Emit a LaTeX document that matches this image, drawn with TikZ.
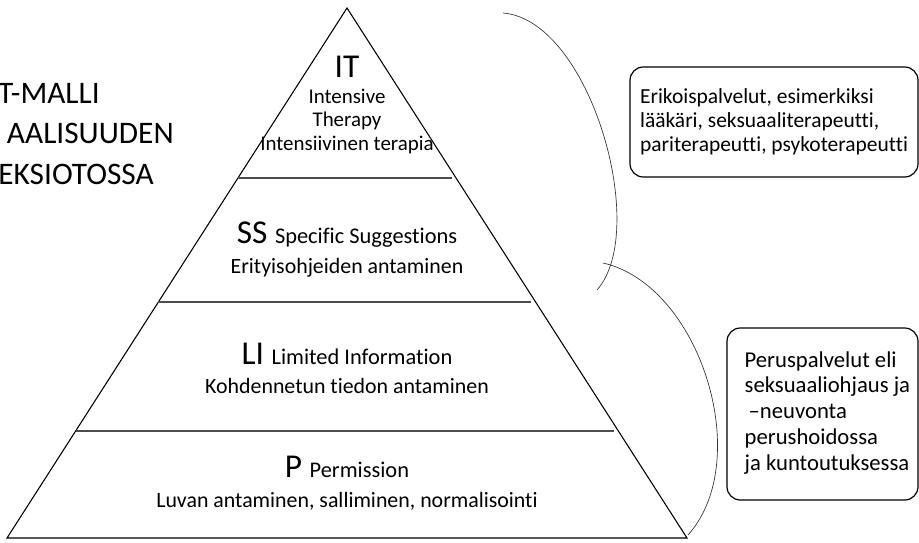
\documentclass[tikz,border=0pt]{standalone}
\usepackage{fontspec}
\setmainfont{Carlito}[Ligatures=NoCommon]
\usetikzlibrary{positioning}

\begin{document}
\frenchspacing
\begin{tikzpicture}[x=0.75pt,y=0.75pt,yscale=-1,
  titletext/.style={anchor=base east,inner sep=0pt,font=\fontsize{23.5}{30}\selectfont},
  levelbig/.style={anchor=base,inner sep=0pt,font=\fontsize{25}{28}\selectfont},
  leveltext/.style={anchor=base,inner sep=0pt,font=\fontsize{16.4}{18}\selectfont},
  infobox/.style={draw,line width=0.9pt,rounded corners=10pt},
  boxtext/.style={align=left,inner sep=0pt}]
\useasboundingbox (0,0) rectangle (919,542);
\clip (0,0) rectangle (919,542);

%Shape: Triangle [id:pyramid]
\draw [line width=0.8pt,line join=miter] (347,8) -- (687,538) -- (7,538) -- cycle ;
%Straight Lines [id:layers]
\draw [color=black!70,line width=0.8pt] (238,178) -- (452,178) (158,302) -- (531,302) (76,431) -- (614,431) ;

%Curve Lines [id:upperbrace]
\draw [color=black!80,line width=0.5pt] (503,13) .. controls (590,20) and (650,230) .. (597,290) ;
%Curve Lines [id:lowerbrace]
\draw [color=black!80,line width=0.5pt] (603,263) .. controls (700,285) and (755,460) .. (688,535) ;

% Text Node
\node [titletext] (titlea) at (100,103) {T-MALLI};
% Text Node
\node [titletext] (titleb) at (174,143) {AALISUUDEN};
% Text Node
\node [titletext] (titlec) at (154,184) {EKSIOTOSSA};

% Text Node
\node [levelbig] (itname) at (347,77) {IT};
% Text Node
\node [anchor=base,inner sep=0pt,align=center,font=\fontsize{15.7}{17.3}\selectfont] (itsub) at (347,150) {Intensive\\Therapy\\Intensiivinen terapia};

% Text Node
\node [levelbig] (ssname) at (347,243) {SS {\fontsize{16.8}{18}\selectfont Specific Suggestions}};
% Text Node
\node [leveltext] (sssub) at (347,273) {Erityisohjeiden antaminen};

% Text Node
\node [levelbig] (liname) at (347,364) {LI {\fontsize{16.8}{18}\selectfont Limited Information}};
% Text Node
\node [leveltext] (lisub) at (347,393) {Kohdennetun tiedon antaminen};

% Text Node
\node [levelbig] (pname) at (347,477) {P {\fontsize{16.8}{18}\selectfont Permission}};
% Text Node
\node [leveltext] (psub) at (347,507) {Luvan antaminen, salliminen, normalisointi};

%Rounded Rect [id:specialbox]
\node [infobox,minimum width=216pt,minimum height=82.5pt,inner xsep=7pt,align=left,font=\fontsize{16.1}{18}\selectfont] (specialbox) at (774,122)
  {Erikoispalvelut, esimerkiksi\\l\"a\"ak\"ari, seksuaaliterapeutti,\\pariterapeutti, psykoterapeutti};

%Rounded Rect [id:basicbox]
\node [infobox,minimum width=143.25pt,minimum height=129pt] (basicbox) at (822.5,414) {};
% Text Node
\node [boxtext,anchor=west,font=\fontsize{17}{19.3}\selectfont] (basictext) at ([xshift=13.5pt,yshift=-1pt]basicbox.west)
  {Peruspalvelut eli\\seksuaaliohjaus ja\\\hspace*{3pt}–neuvonta\\perushoidossa\\ja kuntoutuksessa};

\end{tikzpicture}
\end{document}
